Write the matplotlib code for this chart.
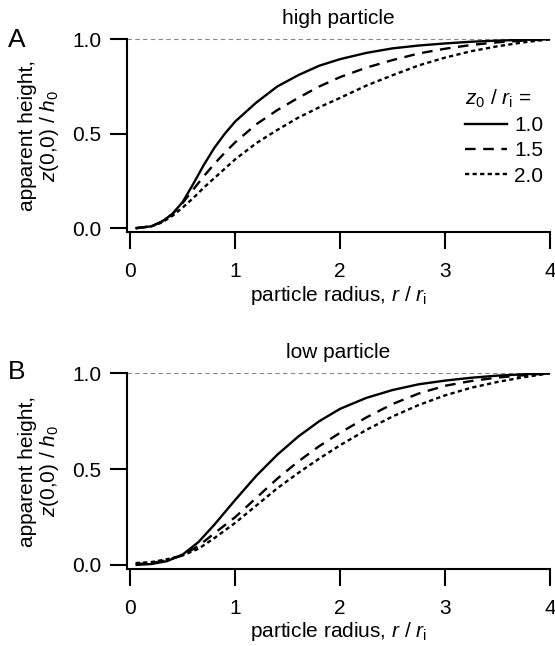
import numpy as np
import matplotlib
matplotlib.use("Agg")
import matplotlib.pyplot as plt
from matplotlib.lines import Line2D

plt.rcParams['font.family'] = ['Liberation Sans', 'DejaVu Sans']
plt.rcParams['font.size'] = 15
plt.rcParams['mathtext.fontset'] = 'custom'
plt.rcParams['mathtext.rm'] = 'Liberation Sans'
plt.rcParams['mathtext.it'] = 'Liberation Sans:italic'

# z0 / ri values
ratios = ["1.0", "1.5", "2.0"]

# panel A: high particle
r_high = [0.05, 0.2, 0.3, 0.4, 0.5, 0.6, 0.7, 0.8, 0.9, 1.0, 1.2, 1.4, 1.6, 1.8,
          2.0, 2.25, 2.5, 2.75, 3.0, 3.25, 3.5, 3.75, 4.0]
high_10 = [0.0, 0.01, 0.035, 0.075, 0.14, 0.235, 0.335, 0.425, 0.5, 0.565, 0.665, 0.75, 0.81, 0.86,
           0.895, 0.928, 0.952, 0.967, 0.978, 0.987, 0.993, 0.997, 1.0]
high_15 = [0.0, 0.01, 0.035, 0.075, 0.135, 0.205, 0.275, 0.34, 0.40, 0.455, 0.55, 0.625, 0.69, 0.75,
           0.80, 0.85, 0.89, 0.925, 0.95, 0.97, 0.984, 0.993, 1.0]
high_20 = [0.0, 0.01, 0.03, 0.065, 0.11, 0.16, 0.215, 0.265, 0.315, 0.365, 0.45, 0.52, 0.585, 0.64,
           0.69, 0.755, 0.81, 0.862, 0.903, 0.937, 0.963, 0.984, 1.0]

# panel B: low particle
r_low = [0.05, 0.2, 0.35, 0.5, 0.65, 0.8, 1.0, 1.2, 1.4, 1.6, 1.8, 2.0, 2.25, 2.5,
         2.75, 3.0, 3.25, 3.5, 3.75, 4.0]
low_10 = [0.0, 0.005, 0.02, 0.055, 0.12, 0.21, 0.34, 0.465, 0.575, 0.67, 0.75, 0.815, 0.872, 0.913,
          0.943, 0.962, 0.977, 0.988, 0.995, 1.0]
low_15 = [0.005, 0.01, 0.025, 0.05, 0.1, 0.165, 0.25, 0.35, 0.45, 0.54, 0.62, 0.69, 0.77, 0.84,
          0.895, 0.935, 0.96, 0.978, 0.99, 1.0]
low_20 = [0.01, 0.015, 0.03, 0.05, 0.085, 0.14, 0.22, 0.31, 0.4, 0.48, 0.555, 0.625, 0.705, 0.775,
          0.835, 0.885, 0.925, 0.955, 0.98, 1.0]

styles = [dict(ls='-'), dict(dashes=(4.5, 3.2)), dict(dashes=(1.8, 1.4))]
lw = 1.7

fig = plt.figure(figsize=(5.55, 6.46), dpi=100)
ax_a = fig.add_axes([0.2283, 0.6409, 0.7627, 0.2983])
ax_b = fig.add_axes([0.2283, 0.1195, 0.7627, 0.3026])

panels = [
    (ax_a, r_high, [high_10, high_15, high_20], "high particle", "A", 40),
    (ax_b, r_low, [low_10, low_15, low_20], "low particle", "B", 372),
]

for ax, r, ys, title, letter, ypix in panels:
    ax.axhline(1.0, color='#888888', lw=0.8, dashes=(4, 3), clip_on=False, zorder=1)
    for y, st in zip(ys, styles):
        ax.plot(r, y, color='black', lw=lw, solid_capstyle='butt',
                dash_capstyle='butt', solid_joinstyle='round', zorder=3, **st)
    ax.set_xlim(-0.035, 4.0)
    ax.set_ylim(-0.02, 1.0)
    ax.set_xticks([0, 1, 2, 3, 4])
    ax.set_yticks([0.0, 0.5, 1.0])
    ax.set_yticklabels(["0.0", "0.5", "1.0"])
    for s in ['top', 'right']:
        ax.spines[s].set_visible(False)
    for s in ['left', 'bottom']:
        ax.spines[s].set_linewidth(1.5)
    ax.tick_params(axis='both', length=12.5, width=1.5, labelsize=15)
    ax.tick_params(axis='x', pad=9)
    ax.tick_params(axis='y', pad=6)
    ax.set_title(title, fontsize=15, pad=11)
    ax.set_xlabel(r"particle radius, $r$ / $r_{\mathrm{i}}$", fontsize=15, labelpad=2)
    ax.set_ylabel("apparent height,\n" + r"$z$(0,0) / $h_0$", fontsize=15,
                  labelpad=8, linespacing=1.05)
    fig.text(8 / 555, 1 - ypix / 646, letter, fontsize=19, va='center', ha='left')

handles = [Line2D([], [], color='black', lw=lw, **st) for st in styles]
leg = ax_a.legend(handles, ratios, title=r"$z_0$ / $r_{\mathrm{i}}$ =",
                  loc='upper left', bbox_to_anchor=(0.80, 0.75), frameon=False,
                  borderpad=0, borderaxespad=0, handlelength=2.0, handletextpad=0.35,
                  labelspacing=0.3, fontsize=15, title_fontsize=15, alignment='left')

fig.savefig("out.png", dpi=100)
